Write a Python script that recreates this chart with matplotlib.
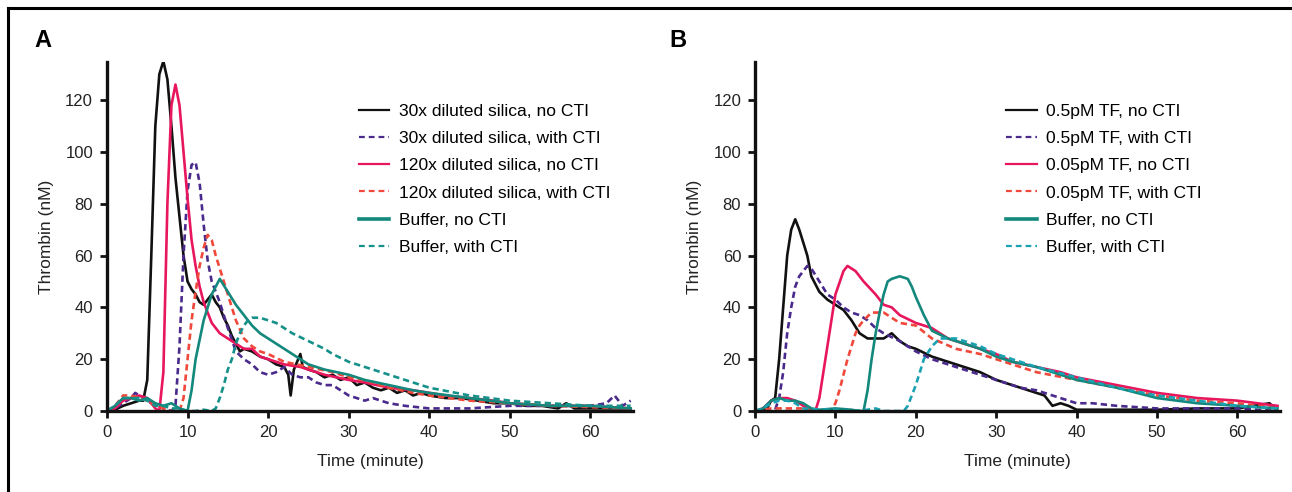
import numpy as np
import matplotlib
matplotlib.use("Agg")
import matplotlib.pyplot as plt
from matplotlib.lines import Line2D

plt.rcParams['font.family'] = ['Liberation Sans', 'DejaVu Sans']

# ---------------- panel A: silica ----------------
a_black_t = [0, 1, 2, 3, 4, 4.5, 5, 5.5, 6, 6.5, 7, 7.5, 8, 8.5, 9, 9.5, 10, 10.5, 11, 11.5, 12, 12.5,
             13, 13.5, 14, 14.5, 15, 15.5, 16, 16.5, 17, 18, 19, 20, 21, 22, 22.5, 22.8, 23.2, 24, 24.3,
             25, 26, 27, 28, 29, 30, 31, 32, 33, 34, 35, 36, 37, 38, 39, 40, 42, 44, 46, 48, 50, 52,
             54, 56, 57, 58, 60, 62, 64, 65]
a_black_y = [0, 0.5, 2, 3, 4, 4, 12, 60, 110, 130, 135, 128, 110, 90, 75, 60, 50, 47, 45, 42, 41, 43,
             45, 42, 40, 36, 33, 29, 26, 23, 24, 23, 21, 20, 18, 17, 14, 6, 16, 22, 17,
             16, 15, 13, 14, 12, 13, 10, 11, 9, 8, 9, 7, 8, 6, 7, 6, 5, 5, 4, 3, 3, 2,
             2, 1, 3, 1, 1, 1, 1, 0.5]

a_purple_t = [0, 1, 2, 3, 3.5, 4, 5, 6, 7, 8, 8.5, 9, 9.5, 10, 10.5, 11, 11.5, 12, 12.5, 13, 13.5, 14,
              15, 16, 17, 18, 19, 20, 21, 22, 23, 24, 25, 26, 27, 28, 29, 30, 31, 32, 33, 35, 37, 40,
              45, 50, 55, 60, 62, 63, 64, 65]
a_purple_y = [0, 1, 3, 5, 7, 6, 4, 2, 1, 0, 2, 25, 60, 85, 95, 96, 88, 72, 58, 50, 46, 42,
              32, 23, 20, 18, 15, 14, 15, 17, 14, 13, 13, 11, 10, 10, 8, 6, 5, 4, 5, 3, 2, 1,
              1, 2, 2, 2, 3, 6, 2, 4]

a_pink_t = [0, 1, 2, 3, 4, 5, 5.5, 6, 6.5, 7, 7.5, 8, 8.5, 9, 9.5, 10, 10.5, 11, 11.5, 12, 13, 14, 15,
            16, 17, 18, 19, 20, 22, 24, 25, 27, 30, 32, 35, 38, 40, 42, 45, 48, 50, 55, 60, 65]
a_pink_y = [0, 1, 4, 5, 6, 5, 3, 1, 0, 15, 80, 118, 126, 118, 100, 82, 66, 56, 48, 42, 34, 30, 28,
            26, 24, 24, 21, 20, 18, 17, 16, 14, 12, 11, 9, 8, 7, 6, 5, 4, 3, 2, 2, 1]

a_red_t = [0, 1, 2, 3, 4, 5, 6, 7, 8, 9, 9.5, 10, 10.5, 11, 11.5, 12, 12.5, 13, 13.5, 14, 15, 16, 17,
           18, 19, 20, 22, 25, 28, 30, 33, 35, 38, 40, 45, 50, 55, 60, 65]
a_red_y = [0, 2, 6, 6, 5, 4, 2, 1, 0, 0, 5, 20, 35, 46, 56, 63, 68, 66, 60, 55, 45, 35, 28,
           25, 23, 22, 19, 17, 15, 13, 11, 9, 7, 6, 4, 3, 2, 1.5, 1]

a_teal_t = [0, 1, 2, 3, 4, 5, 6, 7, 8, 9, 10, 10.5, 11, 12, 13, 14, 15, 16, 17, 18, 19, 20, 22, 24, 25,
            27, 30, 32, 35, 38, 40, 45, 50, 55, 60, 65]
a_teal_y = [0, 2, 5, 5, 4, 5, 3, 2, 3, 1, 0, 8, 20, 35, 45, 51, 46, 41, 37, 33, 30, 28, 24, 20, 18,
            16, 14, 12, 10, 8, 7, 5, 3, 2, 2, 1]

a_tealdash_t = [0, 1, 2, 3, 4, 5, 6, 7, 8, 9, 10, 11, 12, 13, 13.5, 14, 14.5, 15, 15.5, 16, 16.5, 17,
                17.5, 18, 19, 20, 21, 22, 23, 25, 27, 28, 30, 32, 33, 35, 38, 40, 45, 50, 55, 60, 65]
a_tealdash_y = [0, 2, 5, 5, 5, 4, 2, 2, 1, 1, 0, 0, 0.5, 0, 1, 5, 10, 16, 20, 26, 30, 33,
                35, 36, 36, 35, 34, 32, 30, 27, 24, 22, 19, 17, 16, 14, 11, 9, 6, 4, 3, 2, 2]

# ---------------- panel B: tissue factor ----------------
b_black_t = [0, 1, 1.5, 2, 2.5, 3, 3.5, 4, 4.5, 5, 5.5, 6, 6.5, 7, 8, 9, 10, 11, 12, 13, 14, 15, 16,
             17, 18, 19, 20, 22, 24, 25, 27, 28, 30, 32, 33, 35, 36, 36.5, 37, 38, 39, 40, 42, 45,
             50, 55, 58, 60, 62, 64, 65]
b_black_y = [0, 0, 1, 4, 5, 20, 40, 60, 70, 74, 70, 65, 60, 52, 46, 43, 41, 39, 35, 30, 28, 28, 28,
             30, 27, 25, 24, 21, 19, 18, 16, 15, 12, 10, 9, 7, 6, 4, 2, 3, 2, 0.5, 0.5, 0.5,
             0.5, 1, 1, 1, 2, 3, 0]

b_purple_t = [0, 1, 2, 2.5, 3, 3.5, 4, 4.5, 5, 5.5, 6, 6.5, 7, 8, 9, 10, 11, 12, 13, 14, 15, 16, 18,
              20, 22, 25, 28, 30, 32, 33, 35, 38, 40, 42, 45, 50, 55, 60, 65]
b_purple_y = [0, 0, 0, 0.5, 5, 15, 30, 40, 48, 52, 54, 56, 55, 50, 45, 43, 40, 38, 37, 35, 32, 30, 27,
              23, 20, 17, 14, 12, 10, 9, 8, 5, 3, 3, 2, 1, 1, 1, 0]

b_pink_t = [0, 1, 2, 3, 4, 5, 6, 7, 7.5, 8, 9, 10, 11, 11.5, 12.5, 13.5, 15, 16, 17, 18, 20, 22, 24,
            26, 28, 30, 32, 35, 38, 40, 45, 50, 55, 60, 65]
b_pink_y = [0, 1, 4, 5, 5, 4, 2, 0, 0, 5, 25, 45, 54, 56, 54, 50, 45, 41, 40, 37, 34, 32, 28,
            26, 24, 22, 19, 17, 15, 13, 10, 7, 5, 4, 2]

b_red_t = [0, 2, 4, 6, 8, 9, 9.5, 10, 10.5, 11, 11.5, 12, 12.5, 13, 13.5, 14.5, 16, 17, 18, 20, 22,
           25, 28, 30, 35, 40, 45, 50, 55, 60, 65]
b_red_y = [0, 1, 1, 1, 0, 0, 0.5, 3, 8, 14, 20, 25, 30, 33, 35, 38, 38, 36, 34, 33, 28,
           24, 22, 20, 15, 12, 9, 6, 4, 3, 1]

b_teal_t = [0, 1, 2, 3, 4, 5, 6, 7, 8, 10, 12, 13, 13.5, 14, 14.5, 15, 15.5, 16, 16.5, 17, 18, 19,
            19.5, 20, 21, 22, 24, 26, 28, 30, 32, 35, 38, 40, 45, 50, 55, 60, 65]
b_teal_y = [0, 1, 4, 5, 4, 4, 3, 1, 0.5, 1, 0.5, 0, 0, 8, 20, 30, 38, 45, 50, 51, 52, 51,
            48, 44, 37, 31, 28, 26, 24, 21, 19, 17, 14, 12, 9, 5, 3, 2, 1]

b_tealdash_t = [0, 1, 2, 3, 4, 5, 6, 8, 10, 12, 14, 15, 16, 18, 18.5, 19, 19.5, 20, 20.5, 21, 22, 23,
                25, 28, 30, 35, 40, 45, 50, 55, 60, 65]
b_tealdash_y = [0, 1, 3, 4, 4, 3, 1, 0.5, 0.5, 0, 0.5, 1, 0, 0, 0, 2, 6, 10, 15, 20, 25, 28,
                28, 25, 22, 17, 13, 9, 6, 4, 2, 1]

a_labels = ["30x diluted silica, no CTI", "30x diluted silica, with CTI",
            "120x diluted silica, no CTI", "120x diluted silica, with CTI",
            "Buffer, no CTI", "Buffer, with CTI"]
b_labels = ["0.5pM TF, no CTI", "0.5pM TF, with CTI",
            "0.05pM TF, no CTI", "0.05pM TF, with CTI",
            "Buffer, no CTI", "Buffer, with CTI"]

x_ticks = [0, 10, 20, 30, 40, 50, 60]
y_ticks = [0, 20, 40, 60, 80, 100, 120]

# stile per curva: colore, tratteggio
stili_a = [("#111111", "-"), ("#4a2a8c", "--"), ("#e8175d", "-"),
           ("#f0483a", "--"), ("#13887c", "-"), ("#15918a", "--")]
stili_b = [("#111111", "-"), ("#4a2a8c", "--"), ("#e8175d", "-"),
           ("#f0483a", "--"), ("#13887c", "-"), ("#1aa2b2", "--")]

dati_a = [(a_black_t, a_black_y), (a_purple_t, a_purple_y), (a_pink_t, a_pink_y),
          (a_red_t, a_red_y), (a_teal_t, a_teal_y), (a_tealdash_t, a_tealdash_y)]
dati_b = [(b_black_t, b_black_y), (b_purple_t, b_purple_y), (b_pink_t, b_pink_y),
          (b_red_t, b_red_y), (b_teal_t, b_teal_y), (b_tealdash_t, b_tealdash_y)]

fig = plt.figure(figsize=(12.92, 4.92), dpi=100)
ax_a = fig.add_axes([0.0828, 0.1646, 0.4072, 0.7094])
ax_b = fig.add_axes([0.5844, 0.1646, 0.4063, 0.7094])

LW = 1.9
DASH = (2.4, 1.5)


def disegna(ax, dati, stili, etichette):
    for (t, y), (c, ls), lab in zip(dati, stili, etichette):
        kw = dict(color=c, lw=LW, solid_joinstyle='round')
        if ls == "--":
            kw['dashes'] = DASH
        ax.plot(t, y, label=lab, **kw)

    ax.set_xlim(0, 65.3)
    ax.set_ylim(0, 134.7)
    ax.set_xticks(x_ticks)
    ax.set_yticks(y_ticks)
    for s in ['top', 'right']:
        ax.spines[s].set_visible(False)
    for s in ['left', 'bottom']:
        ax.spines[s].set_linewidth(2.4)
        ax.spines[s].set_color('#111111')
    ax.tick_params(axis='both', direction='out', length=5, width=2, color='#111111',
                   labelsize=12, labelcolor='#222222', pad=5)
    ax.set_xlabel("Time (minute)", fontsize=12.5, labelpad=10, color='#222222')
    ax.set_ylabel("Thrombin (nM)", fontsize=12.5, labelpad=8, color='#222222')

    leg_handles = []
    for (c, ls) in stili:
        if ls == "--":
            leg_handles.append(Line2D([], [], color=c, lw=1.6, dashes=(2.6, 1.8)))
        else:
            leg_handles.append(Line2D([], [], color=c, lw=1.6 if c != "#13887c" else 2.6))
    ax.legend(leg_handles, etichette, loc='upper left', bbox_to_anchor=(0.465, 0.9),
              frameon=False, fontsize=12.6, handlelength=1.75, handletextpad=0.55,
              labelspacing=0.68, borderaxespad=0)


disegna(ax_a, dati_a, stili_a, a_labels)
disegna(ax_b, dati_b, stili_b, b_labels)

fig.text(0.027, 0.918, "A", fontsize=17, fontweight='bold', va='center', ha='left')
fig.text(0.518, 0.918, "B", fontsize=17, fontweight='bold', va='center', ha='left')

# cornice esterna (solo sopra e a sinistra)
fig.add_artist(Line2D([0.0062, 1.0], [0.984, 0.984], color='black', lw=2.2, transform=fig.transFigure))
fig.add_artist(Line2D([0.0062, 0.0062], [0.0, 0.984], color='black', lw=2.2, transform=fig.transFigure))

fig.savefig("out.png", dpi=100)
